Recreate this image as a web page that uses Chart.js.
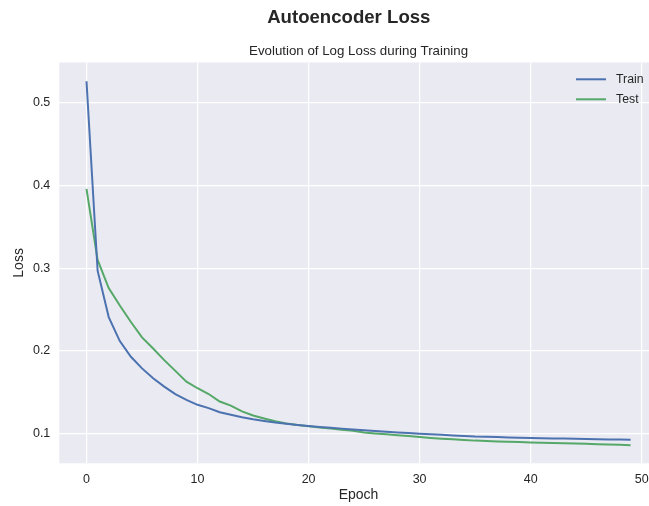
<!DOCTYPE html>
<html><head><meta charset="utf-8">
<script src="https://cdn.jsdelivr.net/npm/chart.js@4.4.0/dist/chart.umd.min.js"></script>
<style>
html,body{margin:0;padding:0;overflow:hidden;background:#fff;width:649px;height:506px}
#wrap{position:absolute;left:0;top:0;width:700px;height:506px}
</style>
</head><body><div id="wrap"><canvas id="c" width="700" height="506"></canvas></div>
<script>
const chartTitle = "Autoencoder Loss";
const chartSubtitle = "Evolution of Log Loss during Training";
const xLabel = "Epoch";
const yLabel = "Loss";
const seriesNames = ["Train", "Test"];
const epochs = [0,1,2,3,4,5,6,7,8,9,10,11,12,13,14,15,16,17,18,19,20,21,22,23,24,25,26,27,28,29,30,31,32,33,34,35,36,37,38,39,40,41,42,43,44,45,46,47,48,49];
const trainLoss = [0.526,0.297,0.241,0.212,0.193,0.179,0.167,0.157,0.148,0.141,
  0.135,0.131,0.126,0.123,0.120,0.1175,0.1155,0.1135,0.112,0.1107,
  0.1095,0.1083,0.1072,0.1062,0.1052,0.1042,0.1034,0.1025,0.1016,0.1008,
  0.1000,0.0993,0.0987,0.0980,0.0972,0.0966,0.0963,0.0960,0.0956,0.0952,
  0.0949,0.0946,0.0944,0.0942,0.0940,0.0938,0.0935,0.0932,0.0930,0.0928];
const testLoss = [0.396,0.310,0.276,0.255,0.235,0.2165,0.203,0.189,0.176,0.163,
  0.155,0.148,0.139,0.134,0.127,0.122,0.1185,0.115,0.1125,0.1105,
  0.1092,0.1075,0.1062,0.1048,0.1036,0.1016,0.1004,0.0993,0.0982,0.0972,
  0.0960,0.0950,0.0941,0.0933,0.0925,0.0917,0.0912,0.0907,0.0903,0.0899,
  0.0895,0.0891,0.0888,0.0884,0.0881,0.0878,0.0874,0.0870,0.0866,0.0861];
const xTicks = [0,10,20,30,40,50];
const yTicks = [0.1,0.2,0.3,0.4,0.5];

const FONT = '"Liberation Sans", Arial, sans-serif';
const TXT = '#262626';
const colors = ['#4C72B0', '#55A868'];

const bgPlugin = {
  id: 'bg',
  beforeDraw(chart) {
    const {ctx, chartArea: a} = chart;
    ctx.save();
    ctx.fillStyle = '#EAEAF2';
    ctx.fillRect(a.left, a.top, a.right - a.left, a.bottom - a.top);
    ctx.restore();
  },
  afterDraw(chart) {
    const ctx = chart.ctx;
    ctx.save();
    ctx.fillStyle = TXT;
    ctx.textAlign = 'center';
    ctx.textBaseline = 'alphabetic';
    ctx.font = 'bold 18.6px ' + FONT;
    ctx.fillText(chartTitle, 348.8, 23.3);
    ctx.font = '13.3px ' + FONT;
    const a = chart.chartArea;
    ctx.fillText(chartSubtitle, (a.left + a.right) / 2, 55.3);
    // legend
    const ys = [79.3, 99.3];
    chart.data.datasets.forEach((ds, i) => {
      ctx.strokeStyle = ds.borderColor;
      ctx.lineWidth = 2;
      ctx.beginPath();
      ctx.moveTo(576, ys[i]);
      ctx.lineTo(606, ys[i]);
      ctx.stroke();
      ctx.fillStyle = TXT;
      ctx.font = '12.3px ' + FONT;
      ctx.textAlign = 'left';
      ctx.textBaseline = 'middle';
      ctx.fillText(ds.label, 616, ys[i]);
    });
    ctx.restore();
  }
};

new Chart(document.getElementById('c'), {
  type: 'line',
  data: {
    datasets: [
      {label: seriesNames[0], data: epochs.map((e, i) => ({x: e, y: trainLoss[i]})),
       borderColor: colors[0], backgroundColor: colors[0], borderWidth: 2, pointRadius: 0, tension: 0, fill: false},
      {label: seriesNames[1], data: epochs.map((e, i) => ({x: e, y: testLoss[i]})),
       borderColor: colors[1], backgroundColor: colors[1], borderWidth: 2, pointRadius: 0, tension: 0, fill: false}
    ]
  },
  options: {
    responsive: false,
    devicePixelRatio: 1,
    animation: false,
    layout: {padding: {left: 0, right: 42.2, top: 62.5, bottom: 0}},
    plugins: {legend: {display: false}, title: {display: false}, tooltip: {enabled: false}},
    scales: {
      x: {
        type: 'linear', min: -2.45, max: 51.45,
        afterBuildTicks: (s) => { s.ticks = xTicks.map(v => ({value: v})); },
        afterFit: (s) => { s.height = 42.7; },
        ticks: {color: TXT, font: {family: FONT, size: 12.5}, padding: 8.6, includeBounds: false},
        grid: {color: '#ffffff', lineWidth: 1.2, drawTicks: false},
        border: {display: false},
        title: {display: true, text: xLabel, color: TXT, font: {family: FONT, size: 14}, padding: {top: 0, bottom: 2.2}}
      },
      y: {
        type: 'linear', min: 0.0643, max: 0.5486,
        afterBuildTicks: (s) => { s.ticks = yTicks.map(v => ({value: v})); },
        afterFit: (s) => { s.width = 59.3; },
        ticks: {color: TXT, font: {family: FONT, size: 12.5}, padding: 9, includeBounds: false,
                callback: (v) => v.toFixed(1)},
        grid: {color: '#ffffff', lineWidth: 1.2, drawTicks: false},
        border: {display: false},
        title: {display: true, text: yLabel, color: TXT, font: {family: FONT, size: 14}, padding: {top: 11, bottom: 0}}
      }
    }
  },
  plugins: [bgPlugin]
});
</script>
</body></html>
